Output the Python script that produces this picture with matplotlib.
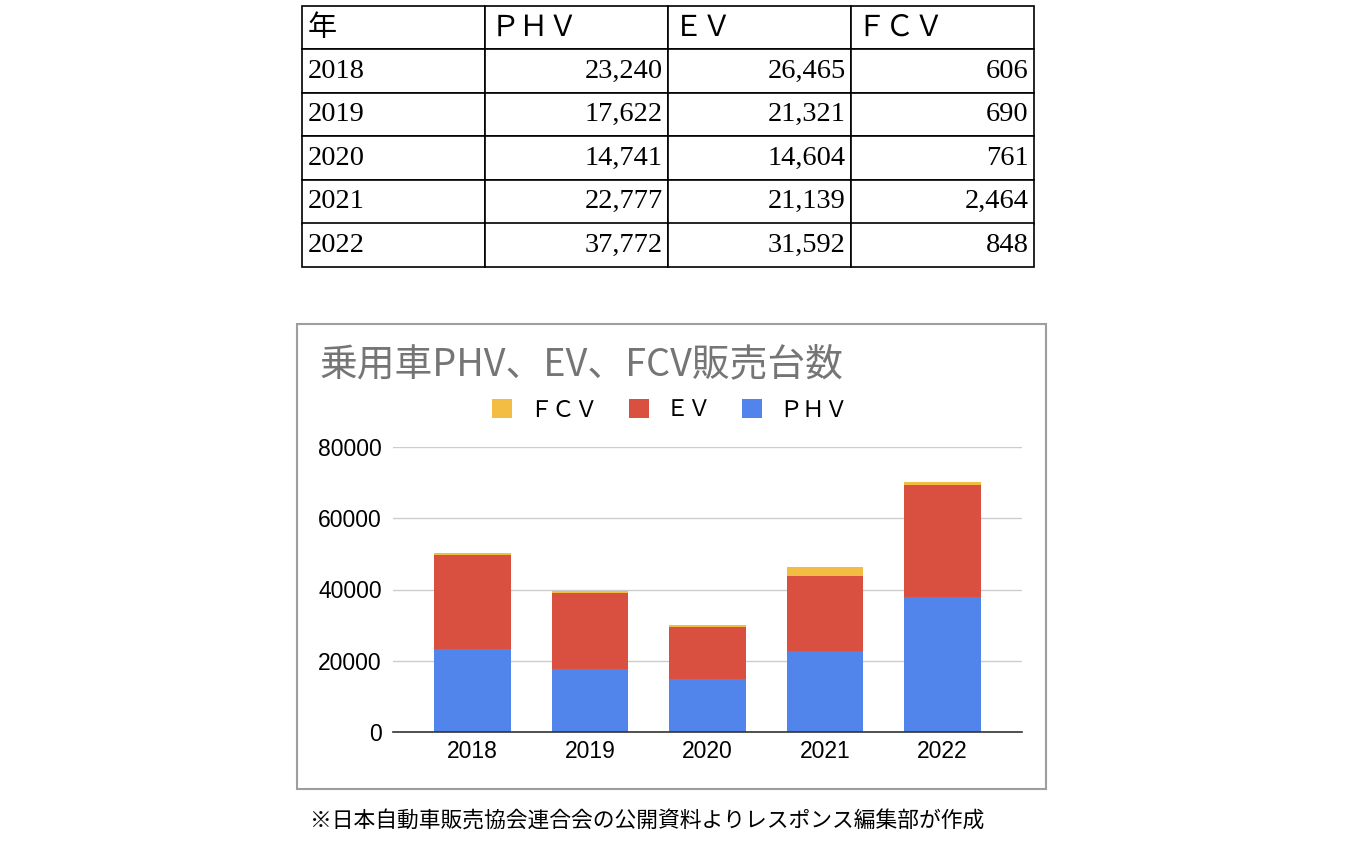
import matplotlib
matplotlib.use("Agg")
import matplotlib.pyplot as plt
from matplotlib.patches import Rectangle
import numpy as np

plt.rcParams['font.family'] = ['Noto Sans CJK JP', 'DejaVu Sans']

# data
years = ['2018', '2019', '2020', '2021', '2022']
phv = [23240, 17622, 14741, 22777, 37772]
ev = [26465, 21321, 14604, 21139, 31592]
fcv = [606, 690, 761, 2464, 848]
headers = ['年', 'ＰＨＶ', 'ＥＶ', 'ＦＣＶ']
y_ticks = [0, 20000, 40000, 60000, 80000]

c_phv = '#5185EC'
c_ev = '#DA5040'
c_fcv = '#F2BD42'

fig = plt.figure(figsize=(13.5, 8.44), dpi=100)

# ---- table on top ----
tax = fig.add_axes([302/1350, 1-267/844, 732/1350, 261/844])
tax.axis('off')
rows = [[y, f'{a:,}', f'{b:,}', f'{c:,}'] for y, a, b, c in zip(years, phv, ev, fcv)]
tbl = tax.table(cellText=rows, colLabels=headers, bbox=[0, 0, 1, 1])
tbl.auto_set_font_size(False)
for (r, c), cell in tbl.get_celld().items():
    cell.set_edgecolor('black')
    cell.set_linewidth(1.2)
    cell.PAD = 0.03
    txt = cell.get_text()
    if r == 0:
        txt.set_fontsize(21)
        txt.set_ha('left')
        txt.set_family(['Noto Sans CJK JP', 'DejaVu Sans'])
    else:
        txt.set_fontsize(20.5)
        txt.set_family('Liberation Serif')
        txt.set_ha('left' if c == 0 else 'right')

# ---- chart box ----
fig.patches.append(Rectangle((297/1350, 1-789/844), 749/1350, 465/844,
                             transform=fig.transFigure, fill=False,
                             edgecolor='#9e9e9e', linewidth=1.5))

fig.text(320/1350, 1-365/844, '乗用車PHV、EV、FCV販売台数', fontsize=27.2,
         color='#757575', va='center', ha='left')

ax = fig.add_axes([393/1350, 1-732/844, 629/1350, 285/844])
x = np.arange(len(years))
w = 0.65
b1 = ax.bar(x, phv, w, color=c_phv, label='ＰＨＶ')
b2 = ax.bar(x, ev, w, bottom=phv, color=c_ev, label='ＥＶ')
b3 = ax.bar(x, fcv, w, bottom=np.array(phv) + np.array(ev), color=c_fcv, label='ＦＣＶ')

ax.set_xlim(-0.675, 4.675)
ax.set_ylim(0, 80000)
ax.set_yticks(y_ticks)
ax.set_yticklabels([str(v) for v in y_ticks], family='Liberation Sans', fontsize=16.5)
ax.set_xticks(x)
ax.set_xticklabels(years, family='Liberation Sans', fontsize=16.5)
ax.tick_params(length=0, pad=8)
ax.tick_params(axis='x', pad=6)
ax.grid(axis='y', color='#cccccc', linewidth=1)
ax.set_axisbelow(True)
for s in ['top', 'right', 'left']:
    ax.spines[s].set_visible(False)
ax.spines['bottom'].set_color('#333333')
ax.spines['bottom'].set_linewidth(1.2)

fig.legend([b3, b2, b1], ['ＦＣＶ', 'ＥＶ', 'ＰＨＶ'], loc='center',
           bbox_to_anchor=(670/1350, 1-410/844), ncol=3, frameon=False,
           fontsize=16.5, handlelength=0.87, handleheight=0.87, columnspacing=1.35,
           handletextpad=0.75)

fig.text(310/1350, 1-822/844, '※日本自動車販売協会連合会の公開資料よりレスポンス編集部が作成',
         fontsize=15.7, va='center', ha='left', color='black')

fig.savefig('out.png', dpi=100)
